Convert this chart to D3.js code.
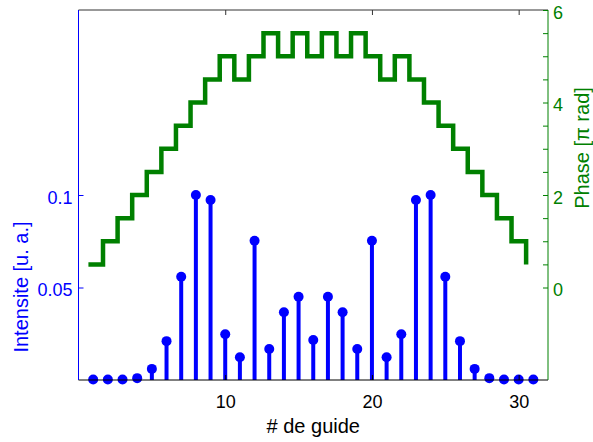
<!DOCTYPE html>
<html>
<head>
<meta charset="utf-8">
<script src="https://cdn.jsdelivr.net/npm/d3@7"></script>
<style>
  html, body { margin: 0; padding: 0; background: #fff; }
  svg { display: block; font-family: "Liberation Sans", Arial, Helvetica, sans-serif; }
</style>
</head>
<body>
<svg id="chart" width="593" height="442"></svg>
<script>
// Guide indices
const guides = d3.range(1, 32);

// Intensity per guide [u. a.]
const intensity = [
  0.0003, 0.0003, 0.0003, 0.001, 0.006, 0.021, 0.0558, 0.100, 0.0973, 0.0247,
  0.0123, 0.0753, 0.0168, 0.0366, 0.045, 0.0216, 0.045, 0.0366, 0.0168, 0.0753,
  0.0123, 0.0247, 0.0973, 0.100, 0.0558, 0.021, 0.006, 0.001, 0.0003, 0.0003, 0.0003
];

// Phase per guide [pi rad]
const phase = [
  0.5, 1.0, 1.5, 2.0, 2.5, 3.0, 3.5, 4.0, 4.5, 5.0,
  4.5, 5.0, 5.5, 5.0, 5.5, 5.0, 5.5, 5.0, 5.5, 5.0,
  4.5, 5.0, 4.5, 4.0, 3.5, 3.0, 2.5, 2.0, 1.5, 1.0, 0.5
];

// Axis ticks
const xTicks = [10, 20, 30];
const intensityTicks = [0.05, 0.1];
const phaseTicks = d3.range(0, 6.01, 0.5);
const phaseLabels = [0, 2, 4, 6];

const blue = "#0000ff";
const green = "#008000";

const L = 78.5, R = 548, T = 10, B = 380;
const svg = d3.select("#chart");

const x = d3.scaleLinear().domain([0, 32]).range([L, R]);
// the phase axes carry their own x limits
const xPhase = d3.scaleLinear().domain([0.32, 32.5]).range([L, R]);
const yInt = d3.scaleLinear().domain([0, 0.2]).range([B, T]);
const yPh = d3.scaleLinear().domain([-2, 6]).range([B, T]);

// Stems
const stems = svg.append("g");
stems.selectAll("line").data(guides).join("line")
  .attr("x1", d => x(d)).attr("x2", d => x(d))
  .attr("y1", yInt(0)).attr("y2", (d, i) => yInt(intensity[i]))
  .attr("stroke", blue).attr("stroke-width", 4);
stems.selectAll("circle").data(guides).join("circle")
  .attr("cx", d => x(d)).attr("cy", (d, i) => yInt(intensity[i]))
  .attr("r", 5).attr("fill", blue);

// Phase stairs
const stair = d3.line()
  .x((d, i) => xPhase(guides[i]))
  .y(d => yPh(d))
  .curve(d3.curveStepAfter);
svg.append("path")
  .attr("d", stair(phase))
  .attr("fill", "none").attr("stroke", green)
  .attr("stroke-width", 4.5).attr("stroke-linejoin", "miter").attr("stroke-linecap", "butt");

// Top border with inward ticks
const topAxis = svg.append("g").attr("transform", `translate(0,${T})`)
  .call(d3.axisTop(x).tickValues(xTicks).tickSize(-5).tickFormat(""));
topAxis.select(".domain").attr("stroke", "#333").attr("d", `M${L},0H${R}`);
topAxis.selectAll(".tick line").attr("stroke", "#333");

// Bottom axis
const bottomAxis = svg.append("g").attr("transform", `translate(0,${B})`)
  .call(d3.axisBottom(x).tickValues(xTicks).tickSize(-5).tickPadding(15).tickFormat(d3.format("d")));
bottomAxis.select(".domain").attr("stroke", "#000").attr("d", `M${L},0H${R}`);
bottomAxis.selectAll(".tick line").attr("stroke", "#000");
bottomAxis.selectAll("text").attr("fill", "#000").style("font-size", "18px");

// Left intensity axis
const leftAxis = svg.append("g").attr("transform", `translate(${L},0)`)
  .call(d3.axisLeft(yInt).tickValues(intensityTicks).tickSize(-5).tickPadding(6).tickFormat(d3.format("")));
leftAxis.select(".domain").attr("stroke", blue).attr("d", `M0,${T}V${B}`);
leftAxis.selectAll(".tick line").attr("stroke", blue);
leftAxis.selectAll("text").attr("fill", blue).attr("dy", "0.45em").style("font-size", "18px");

// Right phase axis
const rightAxis = svg.append("g").attr("transform", `translate(${R},0)`)
  .call(d3.axisRight(yPh).tickValues(phaseTicks).tickSize(-5).tickPadding(5)
    .tickFormat(d => phaseLabels.includes(d) ? d3.format("d")(d) : ""));
rightAxis.select(".domain").attr("stroke", green).attr("d", `M0,${T}V${B}`);
rightAxis.selectAll(".tick line").attr("stroke", green);
rightAxis.selectAll("text").attr("fill", green).attr("dy", "0.45em").style("font-size", "18px");

// Axis titles
svg.append("text")
  .attr("transform", "translate(28,287) rotate(-90)")
  .attr("text-anchor", "middle").attr("fill", blue).style("font-size", "20px")
  .text("Intensite [u. a.]");
svg.append("text")
  .attr("transform", "translate(589,148) rotate(-90)")
  .attr("text-anchor", "middle").attr("fill", green).style("font-size", "20px")
  .text("Phase [\u03c0 rad]");
svg.append("text")
  .attr("x", (L + R) / 2).attr("y", 433)
  .attr("text-anchor", "middle").attr("fill", "#000").style("font-size", "20px")
  .text("# de guide");
</script>
</body>
</html>
